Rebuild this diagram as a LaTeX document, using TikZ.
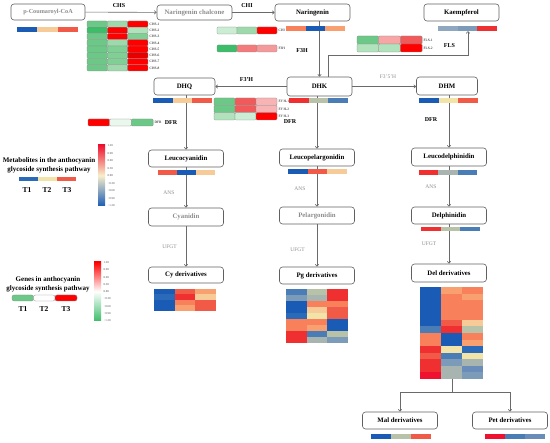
\documentclass[tikz,border=0pt]{standalone}
\usepackage{fontspec}
\setmainfont{Liberation Serif}
\usepackage{tikz}
\usetikzlibrary{arrows.meta,calc,positioning}

% line and text greys
\definecolor{boxgray}{HTML}{606060}
\definecolor{linegray}{HTML}{6A6A6A}
\definecolor{txtgray}{HTML}{8C8C8C}
\definecolor{cellgray}{HTML}{8A8A8A}
% metabolite colours
\definecolor{hb1}{HTML}{1A5CB5}
\definecolor{hb2}{HTML}{2A6AB8}
\definecolor{hst}{HTML}{4A7CB5}
\definecolor{hs2}{HTML}{6A8CB8}
\definecolor{hgb}{HTML}{7C9BB8}
\definecolor{hgl}{HTML}{8FA8BF}
\definecolor{hgr}{HTML}{A8B4B0}
\definecolor{hgg}{HTML}{B8C2A8}
\definecolor{hyl}{HTML}{F2E4A8}
\definecolor{hpc}{HTML}{F7CB98}
\definecolor{hpe}{HTML}{F8A070}
\definecolor{hsa}{HTML}{F8805A}
\definecolor{hro}{HTML}{F25A48}
\definecolor{hrd}{HTML}{F03030}
\definecolor{hcr}{HTML}{F01030}
% gene colours
\definecolor{gdk}{HTML}{3DBD6A}
\definecolor{gmd}{HTML}{6CC886}
\definecolor{gm2}{HTML}{80D096}
\definecolor{glt}{HTML}{9ED9AC}
\definecolor{glp}{HTML}{B0E2BC}
\definecolor{gpl}{HTML}{CBEDD3}
\definecolor{gwh}{HTML}{EAF7EC}
\definecolor{gred}{HTML}{FF0000}
\definecolor{gdr}{HTML}{E60000}
\definecolor{gpk}{HTML}{F8B4B4}
\definecolor{gpk2}{HTML}{F7A5A5}
\definecolor{gsa}{HTML}{F05A5A}
\definecolor{gsa2}{HTML}{F47B7B}
\definecolor{gsa3}{HTML}{F59A9A}

% three cells in a row: style, x, y, width, height, colours
\newcommand{\cells}[8]{%
  \path[#1,fill=#6] ({#2},{#3}) rectangle ++({#4},{#5});
  \path[#1,fill=#7] ({#2+#4},{#3}) rectangle ++({#4},{#5});
  \path[#1,fill=#8] ({#2+2*#4},{#3}) rectangle ++({#4},{#5});}

\begin{document}
\begin{tikzpicture}[x=1pt,y=-1pt,
  box/.style={draw=boxgray,line width=0.6pt,rounded corners=3pt,minimum width=75pt,
    minimum height=17pt,inner sep=0pt,font=\fontsize{6.8}{8}\selectfont\bfseries},
  faint/.style={box,text=txtgray},
  flow/.style={draw=linegray,line width=0.6pt,-{Straight Barb[length=2pt,width=3.5pt]}},
  link/.style={draw=linegray,line width=0.6pt},
  enz/.style={font=\fontsize{6}{7}\selectfont\bfseries,inner sep=0pt},
  enzg/.style={font=\fontsize{5.5}{6.5}\selectfont,text=txtgray,inner sep=0pt},
  tiny/.style={font=\fontsize{3.5}{4}\selectfont,inner sep=0pt,anchor=west},
  tick/.style={font=\fontsize{3}{3.5}\selectfont,inner sep=0pt,anchor=west,text=black!70},
  legtitle/.style={font=\fontsize{7}{9}\selectfont\bfseries,align=center,inner sep=0pt},
  tlab/.style={font=\fontsize{7.5}{9}\selectfont\bfseries,inner sep=0pt},
  gcell/.style={draw=cellgray,line width=0.3pt,rounded corners=1pt},
  mcell/.style={draw=none}]
\useasboundingbox (0,0) rectangle (550,443);

% compounds
\node[faint,minimum width=74pt,minimum height=16pt,font=\fontsize{6.2}{7}\selectfont\bfseries] (coa) at (48,12) {p-Coumaroyl-CoA};
\node[faint,minimum height=15pt] (chal) at (194.5,12.5) {Naringenin chalcone};
\node[box] (nar) at (312.5,12.5) {Naringenin};
\node[box] (kae) at (461.5,12.5) {Kaempferol};
\node[box,minimum width=61pt] (dhq) at (184.5,86.5) {DHQ};
\node[box,minimum width=65pt,minimum height=19pt] (dhk) at (319.5,86.5) {DHK};
\node[box,minimum width=61pt,minimum height=18pt] (dhm) at (447,86) {DHM};
\node[box] (leucy) at (186,158.5) {Leucocyanidin};
\node[box] (leupel) at (317,157.5) {Leucopelargonidin};
\node[box,minimum height=18pt] (leudel) at (449,157) {Leucodelphinidin};
\node[faint,minimum height=18pt] (cyan) at (186,217) {Cyanidin};
\node[faint] (pel) at (317,215.5) {Pelargonidin};
\node[box] (del) at (449,215.5) {Delphinidin};
\node[box,minimum height=16pt] (cyd) at (186,275) {Cy derivatives};
\node[box] (pgd) at (317,275.5) {Pg derivatives};
\node[box,minimum height=18pt] (deld) at (449,273) {Del derivatives};
\node[box] (mal) at (400,420.5) {Mal derivatives};
\node[box] (pet) at (510,420.5) {Pet derivatives};

% enzymes
\node[enz] (chs) at (119,6) {CHS};
\node[enz] (chi) at (247,6) {CHI};
\node[enz] (f3h) at (302,51) {F3H};
\node[enz] (fls) at (449.5,46) {FLS};
\node[enz] (f3ph) at (246.5,80) {F3'H};
\node[enzg] (f35h) at (388,77) {F3'5'H};
\node[enz] (dfra) at (171,123) {DFR};
\node[enz] (dfrb) at (290,122) {DFR};
\node[enz] (dfrc) at (431,120) {DFR};
\node[enzg] (ansa) at (169,193) {ANS};
\node[enzg] (ansb) at (300,189) {ANS};
\node[enzg] (ansc) at (431,187) {ANS};
\node[enzg] (ufgta) at (169.5,247) {UFGT};
\node[enzg] (ufgtb) at (297.5,250) {UFGT};
\node[enzg] (ufgtc) at (429,244) {UFGT};

% connectors
\coordinate (kaeturn) at (468,55);
\coordinate (kaebar) at (468,31);
\coordinate (delhm) at (452,379);
\coordinate (split) at (452,392);
\draw[flow] (coa) -- (chal);
\draw[flow] (chal) -- (nar);
\draw[flow] (nar.south -| dhk.north) -- (dhk.north);
\draw[flow] ([xshift=8.5pt]dhk.north) |- (kaeturn) -- (kaebar);
\draw[flow] (dhk) -- (dhq);
\draw[flow] (dhk.east) -- (dhk.east -| dhm.west);
\draw[flow] (dhq.south -| leucy.north) -- (leucy.north);
\draw[flow] (leucy) -- (cyan);
\draw[flow] (cyan) -- (cyd);
\draw[flow] (dhk.south -| leupel.north) -- (leupel.north);
\draw[flow] (leupel) -- (pel);
\draw[flow] (pel) -- (pgd);
\draw[flow] (dhm.south -| leudel.north) -- (leudel.north);
\draw[flow] (leudel) -- (del);
\draw[flow] (del) -- (deld);
\draw[link] (delhm) -- (split);
\draw[flow] (split) -| (mal.north);
\draw[flow] (split) -| (pet.north);

% metabolite bars
\cells{mcell}{17}{27}{20.3}{5}{hb1}{hpc}{hro}
\cells{mcell}{286}{26}{19.7}{5}{hsa}{hb1}{hpe}
\cells{mcell}{438}{26}{19.7}{5}{hgl}{hgb}{hrd}
\cells{mcell}{153}{98}{19.7}{5}{hb1}{hpc}{hro}
\cells{mcell}{289}{98}{19.7}{5}{hrd}{hgg}{hst}
\cells{mcell}{419}{98}{19.7}{5}{hb1}{hyl}{hro}
\cells{mcell}{158}{170}{19}{5}{hro}{hb1}{hpc}
\cells{mcell}{288}{169}{19.7}{5}{hb1}{hro}{hpc}
\cells{mcell}{419}{170}{19.3}{5}{hrd}{hgr}{hst}
\cells{mcell}{421}{227}{19.7}{4.5}{hrd}{hgg}{hst}
\cells{mcell}{371}{434}{20}{5}{hb1}{hgg}{hro}
\cells{mcell}{485}{434}{20}{5}{hcr}{hst}{hs2}

% Cy derivatives
\foreach \a/\b/\c [count=\r] in {hb1/hro/hpe, hb2/hrd/hpc, hb1/hsa/hro, hb1/hpe/hro}
  {\cells{mcell}{154}{289+(\r-1)*5.5}{20.7}{5.5}{\a}{\b}{\c}}

% Pg derivatives
\foreach \a/\b/\c [count=\r] in {hst/hgg/hrd, hgb/hgr/hrd, hb1/hsa/hsa, hb1/hpc/hro,
  hb2/hyl/hro, hsa/hsa/hb1, hsa/hpe/hb1, hrd/hst/hgg, hrd/hgr/hgb}
  {\cells{mcell}{286}{289+(\r-1)*6}{20.7}{6}{\a}{\b}{\c}}

% Del derivatives
\foreach \a/\b/\c [count=\r] in {hb1/hpe/hsa, hb1/hsa/hpe, hb1/hsa/hsa, hb1/hsa/hsa,
  hb1/hsa/hsa, hb1/hro/hpc, hst/hrd/hgg, hsa/hb1/hsa, hsa/hb1/hpe, hrd/hyl/hb2,
  hro/hst/hyl, hrd/hgb/hgr, hrd/hgr/hs2, hcr/hgr/hgb}
  {\cells{mcell}{420}{287+(\r-1)*6.57}{21}{6.57}{\a}{\b}{\c}}

% gene heatmaps
\foreach \a/\b/\c [count=\r] in {gmd/glt/gred, gdk/gred/glp, gmd/gred/gm2, gmd/glt/gred,
  gmd/gm2/gred, gmd/gm2/gdr, gmd/gm2/gred, gmd/glt/gred}
  {\cells{gcell}{87}{21+(\r-1)*6.25}{20.3}{6.25}{\a}{\b}{\c}
   \node[tiny] (chs\r) at (149.5,{21+(\r-0.5)*6.25}) {CHS-\r};}
\cells{gcell}{217}{27}{20}{7}{gpl}{glt}{gred}
\node[tiny] (chilab) at (278.5,30.5) {CHI};
\cells{gcell}{217}{45}{20}{7}{gdk}{gsa2}{gsa3}
\node[tiny] (f3hlab) at (278.5,48.5) {F3H};
\foreach \a/\b/\c [count=\r] in {gmd/gpk2/gsa, glp/glp/gred}
  {\cells{gcell}{357}{36+(\r-1)*8}{21.7}{8}{\a}{\b}{\c}
   \node[tiny] (fls\r) at (423.5,{36+(\r-0.5)*8}) {FLS-\r};}
\foreach \a/\b/\c [count=\r] in {gmd/gsa/gpk, gmd/gsa/gpk, glp/gpl/gred}
  {\cells{gcell}{214}{98+(\r-1)*7.33}{21}{7.33}{\a}{\b}{\c}
   \node[tiny] (f3ph\r) at (278.5,{98+(\r-0.5)*7.33}) {F3'H-\r};}
\cells{gcell}{88}{119}{21.7}{7}{gred}{gwh}{gmd}
\node[tiny] (dfrlab) at (154.5,122.5) {DFR};

% legend: metabolites
\node[legtitle] (metlab) at (49,165.5) {Metabolites in the anthocyanin\\glycoside synthesis pathway};
\cells{mcell}{19}{177}{19}{4.5}{hb2}{hyl}{hro}
\node[tlab] (mt1) at (27,190) {T1};
\node[tlab] (mt2) at (47,190) {T2};
\node[tlab] (mt3) at (67,190) {T3};
\shade[top color=hcr,bottom color=hb1,middle color=hyl!60!white] (98,145) rectangle (105,206);
\foreach \v [count=\i from 0] in {1.20,0.90,0.60,0.30,0.00,−0.30,−0.60,−0.90,−1.20}
  {\node[tick] at (107.5,{146+\i*7.45}) {\v};}

% legend: genes
\node[legtitle] (genelab) at (48,284.5) {Genes in anthocyanin\\glycoside synthesis pathway};
\draw[gcell,rounded corners=2pt,fill=gmd] (12,295) rectangle (33.5,301);
\draw[gcell,rounded corners=2pt,fill=white] (33.5,295) rectangle (55,301);
\draw[gcell,rounded corners=2pt,fill=gred] (55,295) rectangle (77,301);
\node[tlab] (gt1) at (23,309) {T1};
\node[tlab] (gt2) at (44,309) {T2};
\node[tlab] (gt3) at (66,309) {T3};
\shade[top color=gred,bottom color=gdk,middle color=white] (94,262) rectangle (101,321);
\foreach \v [count=\i from 0] in {1.20,0.90,0.60,0.30,0.00,−0.30,−0.60,−0.90,−1.20}
  {\node[tick] at (103.5,{262.5+\i*7.3}) {\v};}

\end{tikzpicture}
\end{document}
